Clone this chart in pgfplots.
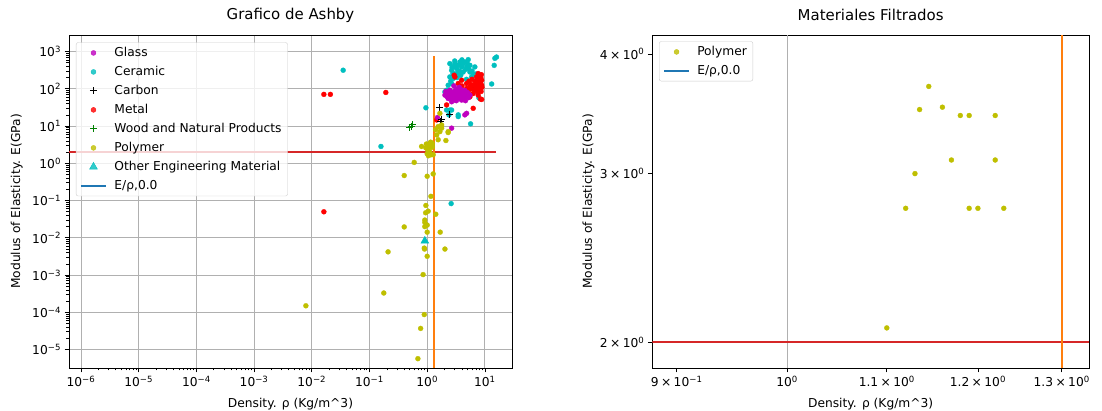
\documentclass[border=0pt]{standalone}
\usepackage{fontspec}
\setmainfont{DejaVu Sans}
\usepackage{pgfplots}
\pgfplotsset{compat=1.18}
\definecolor{mpm}{rgb}{0.75,0,0.75}
\definecolor{mpc}{rgb}{0,0.75,0.75}
\definecolor{mpr}{rgb}{1,0,0}
\definecolor{mpg}{rgb}{0,0.5,0}
\definecolor{mpy}{rgb}{0.75,0.75,0}
\definecolor{tabred}{HTML}{D62728}
\definecolor{taborange}{HTML}{FF7F0E}
\definecolor{tabblue}{HTML}{1F77B4}
\newcommand{\tms}{\kern2.4bp×\kern2.4bp}
\pgfplotsset{
  mpl/.style={
    scale only axis, anchor=south west,
    tick align=outside, tick pos=left,
    major tick length=4.5bp, minor tick length=2.5bp,
    every tick/.style={black, line width=0.7bp},
    axis line style={line width=0.9bp},
    tick label style={font=\fontsize{12.3}{14}\selectfont},
    label style={font=\fontsize{12.3}{14}\selectfont},
    title style={font=\fontsize{15}{17}\selectfont, at={(0.5,1.042)}, anchor=center},
    major grid style={color=black!31, line width=0.9bp},
    legend cell align=left,
    legend style={font=\fontsize{12.3}{14}\selectfont, anchor=north west,
      draw=black!20, rounded corners=2pt, fill=white, fill opacity=0.8, text opacity=1,
      row sep=4.2bp, inner xsep=4bp, inner ysep=3bp},
    legend image code/.code={\draw[mark repeat=2,mark phase=2,#1] plot coordinates {(0bp,0bp)(12.5bp,0bp)(25bp,0bp)};\path (31bp,0bp);},
  },
  dot/.style={only marks, mark=*, color=#1, mark size=2.5bp, mark options={solid, draw=#1, fill=#1, line width=0.3bp}},
  bluelegend/.style={legend image code/.code={\draw[tabblue, line width=1.6bp] (0bp,0bp) -- (25bp,0bp);\path (31bp,0bp);}},
}
\begin{document}
\begin{tikzpicture}
\useasboundingbox (0,0) rectangle (1102bp,411bp);
% ---------------- left axis
\begin{axis}[mpl,
  at={(69bp,43bp)}, width=443bp, height=333bp,
  xmode=log, ymode=log,
  xmin=6.2e-7, xmax=29.5, ymin=3.2e-6, ymax=2790,
  xtick={1e-6,1e-5,1e-4,1e-3,1e-2,1e-1,1,10},
  xticklabels={10\textsuperscript{−6},10\textsuperscript{−5},10\textsuperscript{−4},10\textsuperscript{−3},10\textsuperscript{−2},10\textsuperscript{−1},10\textsuperscript{0},10\textsuperscript{1}},
  ytick={1e-5,1e-4,1e-3,1e-2,1e-1,1,10,100,1000},
  yticklabels={10\textsuperscript{−5},10\textsuperscript{−4},10\textsuperscript{−3},10\textsuperscript{−2},10\textsuperscript{−1},10\textsuperscript{0},10\textsuperscript{1},10\textsuperscript{2},10\textsuperscript{3}},
  grid=major,
  title={Grafico de Ashby},
  xlabel={Density. ρ (Kg/m\^{}3)},
  ylabel={Modulus of Elasticity. E(GPa)},
  xlabel style={at={(0.5,-0.108)}, anchor=center},
  ylabel style={at={(-0.118,0.5)}, anchor=center, rotate=0},
  legend style={at={(0.0158,0.978)}},
]
\addlegendimage{dot=mpm}
\addlegendentry{Glass}
\addlegendimage{dot=mpc}
\addlegendentry{Ceramic}
\addlegendimage{only marks, mark=+, mark size=3.5bp, line width=1bp, black}
\addlegendentry{Carbon}
\addlegendimage{dot=mpr}
\addlegendentry{Metal}
\addlegendimage{only marks, mark=+, mark size=3.5bp, line width=1bp, mpg}
\addlegendentry{Wood and Natural Products}
\addlegendimage{dot=mpy}
\addlegendentry{Polymer}
\addlegendimage{only marks, mark=triangle*, mark size=4.5bp, color=mpc}
\addlegendentry{Other Engineering Material}
\addlegendimage{bluelegend}
\addlegendentry{E/ρ,0.0}
% Ceramic
\addplot[dot=mpc, forget plot] coordinates {
(2.47,475)(3.02,475)(3.45,428)(3.69,525)(4.5,525)(5.14,608)(2.65,316)(3.23,350)(3.95,388)
(4.82,388)(5.5,428)(6.7,388)(2.47,209)(2.82,190)(3.23,257)(3.45,283)(4.2,283)(5.5,283)
(2.65,139)(2.31,125)(2.03,83)(2.17,92)(6.27,232)(5.9,209)(13.1,135)(14.9,660)(15.9,714)
(14.5,427)(2.47,27)(2.65,27)(3.45,20)(3.45,18)(5.65,11.5)(0.95,31)(0.158,2.84)(0.035,316)
(2.6,0.083)(2.9,400)(3.6,300)(4.1,450)(4.6,330)(2.8,260)(3.3,200)(5.2,350)(6.0,300)
(7.0,250)(4.8,180)(2.55,160)(6.5,120)(7.2,92)(7.9,57)(2.17,27)(2.38,20)(2.7,380)(4.0,600)
(3.0,560)(5.0,470)(3.8,230)};
% Metal
\addplot[dot=mpr, forget plot] coordinates {
(3.02,209)(3.95,170)(4.82,139)(5.5,113)(7.2,209)(8.2,232)(8.8,170)(8.8,125)(8.2,92)
(7.65,68)(6.27,75)(5.14,83)(4.5,75)(4.2,61)(3.23,75)(2.65,75)(5.5,61)(8.8,52)(6.27,30)
(2.17,37)(1.46,14.6)(0.192,80)(4.82,102)(7.2,139)(6.27,125)(7.65,257)(3.45,139)
(0.0162,71)(0.021,71)(0.0162,0.05)(7.5,180)(8.5,200)(7.8,120)(8.4,150)(8.9,110)(7.0,100)
(8.0,170)(6.8,160)(6.5,95)(7.4,85)(8.6,85)(5.8,130)(6.0,180)(5.3,160)(2.94,232)(8.4,53)
(7.7,220)(8.7,240)(7.9,100)(8.3,130)(6.9,130)(5.7,100)(4.0,120)(2.8,70)};
% Glass
\addplot[dot=mpm, forget plot] coordinates {
(2.17,75)(2.47,68)(2.82,83)(3.23,61)(3.69,55)(4.2,68)(4.82,61)(5.5,68)(2.31,55)(3.02,50)
(2.65,45)(3.95,50)(2.03,68)(4.5,20)(4.82,22)(2.65,8.8)(1.51,17)(3.45,83)(2.47,92)
(2.6,60)(2.9,70)(3.1,90)(3.4,72)(3.8,80)(4.0,62)(2.4,80)(2.5,58)(3.3,100)(4.4,75)
(2.2,62)(2.7,52)(3.6,65)(5.0,80)(4.5,90)(2.9,120)(3.6,110)(4.3,55)(5.2,58)
(2.1,85)(3.0,65)(3.9,95)(2.55,72)(3.2,48)(4.6,48)(2.35,66)};
% Carbon
\addplot[only marks, mark=+, mark size=3.5bp, line width=1bp, black, forget plot] coordinates {
(1.61,31)(2.47,20.8)(1.78,14.6)(1.71,13.2)};
% Wood
\addplot[only marks, mark=+, mark size=3.5bp, line width=1bp, mpg, forget plot] coordinates {
(0.50,9.3)(0.55,10.8)(0.53,10)};
% Polymer
\addplot[dot=mpy, forget plot] coordinates {
(1.66,22)(1.78,10.7)(1.55,9.7)(1.78,8.8)(2.31,7.1)(2.31,6.7)(2.11,4.1)(1.55,4.3)(1.46,5.8)
(1.66,7.1)(1.40,8.0)
(1.10,2.07)(1.12,2.76)(1.13,3.0)(1.135,3.5)(1.145,3.7)(1.16,3.52)(1.17,3.1)(1.18,3.45)
(1.19,3.45)(1.19,2.76)(1.20,2.76)(1.22,3.45)(1.22,3.1)(1.23,2.76)
(0.80,2.84)(0.596,1.06)(1.0,1.8)(1.05,1.6)(1.02,2.3)(0.97,3.3)(0.95,2.6)(1.16,1.7)(1.27,1.7)
(0.40,0.47)(1.0,0.45)(1.27,0.52)(1.16,0.13)(0.95,0.074)(1.04,0.052)(0.94,0.047)(1.41,0.043)
(0.91,0.030)(0.91,0.026)(1.0,0.022)(0.91,0.020)(0.40,0.0196)(1.0,0.0142)(1.68,0.0142)
(0.89,0.0053)(0.90,0.005)(2.03,0.005)(0.21,0.0042)(1.0,0.0032)(0.85,0.00103)(0.177,3.3e-4)
(0.89,8.7e-5)(0.77,3.7e-5)(0.69,5.7e-6)(0.0079,1.5e-4)};
% Other
\addplot[only marks, mark=triangle*, mark size=4.5bp, color=mpc, forget plot] coordinates {
(0.91,0.0083)};
\addplot[tabred, line width=1.5bp, forget plot] coordinates {(6.2e-7,2)(15.8,2)};
\addplot[taborange, line width=1.5bp, forget plot] coordinates {(1.3,3.2e-6)(1.3,740)};
\end{axis}
% ---------------- right axis
\begin{axis}[mpl,
  at={(652.3bp,43bp)}, width=436.7bp, height=333bp,
  xmode=log, ymode=log,
  xmin=0.8793, xmax=1.3343, ymin=1.880, ymax=4.187,
  xtick={0.9,1.1,1.2,1.3},
  xticklabels={9\tms10\textsuperscript{−1},1.1\tms10\textsuperscript{0},1.2\tms10\textsuperscript{0},1.3\tms10\textsuperscript{0}},
  extra x ticks={1}, extra x tick labels={10\textsuperscript{0}},
  extra x tick style={grid=major},
  ytick={2,3,4},
  yticklabels={2\tms10\textsuperscript{0},3\tms10\textsuperscript{0},4\tms10\textsuperscript{0}},
  minor xtick={}, minor ytick={},
  title={Materiales Filtrados},
  xlabel={Density. ρ (Kg/m\^{}3)},
  ylabel={Modulus of Elasticity. E(GPa)},
  xlabel style={at={(0.5,-0.108)}, anchor=center},
  ylabel style={at={(-0.146,0.5)}, anchor=center, rotate=0},
  legend style={at={(0.0155,0.981)}},
]
\addplot[dot=mpy] coordinates {
(1.10,2.07)(1.12,2.76)(1.13,3.0)(1.135,3.5)(1.145,3.7)(1.16,3.52)(1.17,3.1)(1.18,3.45)
(1.19,3.45)(1.19,2.76)(1.20,2.76)(1.22,3.45)(1.22,3.1)(1.23,2.76)};
\addlegendentry{Polymer}
\addlegendimage{bluelegend}
\addlegendentry{E/ρ,0.0}
\addplot[tabred, line width=1.8bp, forget plot] coordinates {(0.8793,2)(1.3343,2)};
\addplot[taborange, line width=1.8bp, forget plot] coordinates {(1.3,1.880)(1.3,4.187)};
\end{axis}
\end{tikzpicture}
\end{document}
